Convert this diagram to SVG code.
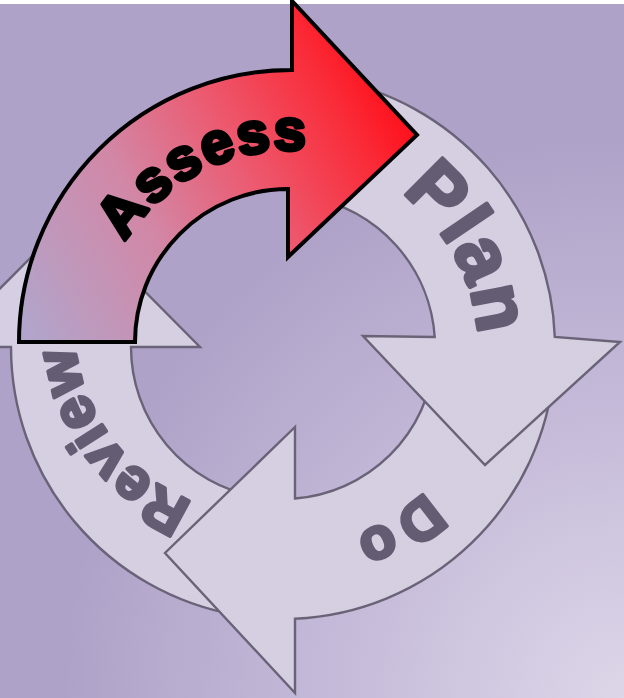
<svg xmlns="http://www.w3.org/2000/svg" width="624" height="698" viewBox="0 0 624 698">
  <defs>
    <radialGradient id="bg" gradientUnits="userSpaceOnUse" cx="624" cy="698" r="560">
      <stop offset="0" stop-color="#ddd6e8"/>
      <stop offset="0.45" stop-color="#c8bedb"/>
      <stop offset="1" stop-color="#afa2c8"/>
    </radialGradient>
    <linearGradient id="red" gradientUnits="userSpaceOnUse" x1="30" y1="330" x2="417" y2="110">
      <stop offset="0" stop-color="#b2a4ca"/>
      <stop offset="0.35" stop-color="#d287a6"/>
      <stop offset="0.6" stop-color="#ec5a70"/>
      <stop offset="0.85" stop-color="#fa2b38"/>
      <stop offset="1" stop-color="#ff0a14"/>
    </linearGradient>
    <linearGradient id="grey" gradientUnits="userSpaceOnUse" x1="0" y1="300" x2="624" y2="600">
      <stop offset="0" stop-color="#d6cfe3"/>
      <stop offset="1" stop-color="#d4cfdf"/>
    </linearGradient>
    <path id="tpPlan" d="M 346.8 164.0 A 196 196 0 0 1 472.3 397.7"/>
    <path id="tpDo" d="M 475.1 410.3 A 202 202 0 0 1 254.9 547.0"/>
    <path id="tpReview" d="M 231.8 513.1 A 191 191 0 0 1 75 305"/>
    <path id="tpAssess" d="M 108.6 276.3 A 192 192 0 0 1 345.1 158.4"/>
  </defs>
  <style>
    .cyc { fill: url(#grey); stroke: #6a6378; stroke-width: 2.4; stroke-linejoin: miter; }
    .glbl { font-family: "Liberation Sans", Arial, sans-serif; font-weight: bold; fill: #645c72; stroke: #645c72; stroke-width: 3.6; stroke-linejoin: round; }
    .albl { font-family: "Liberation Sans", Arial, sans-serif; font-weight: bold; fill: #000000; stroke: #000000; stroke-width: 4; stroke-linejoin: round; }
  </style>

  <rect x="0" y="0" width="624" height="698" fill="url(#bg)"/>
  <rect x="0" y="0" width="624" height="4" fill="#ffffff"/>

  <g id="connectors"/>

  <g id="review">
    <path class="cyc" d="M 235.8 614.9 A 272 272 0 0 1 11 347 L -58 347 L 71 217 L 200 347 L 131 347 A 152 152 0 0 0 256.6 496.7 Z"/>
    <text class="glbl" font-size="58" letter-spacing="1"><textPath href="#tpReview" startOffset="50%" text-anchor="middle">Review</textPath></text>
  </g>

  <g id="do">
    <path class="cyc" d="M 554 370.7 A 272 272 0 0 1 295 618.7 L 295 693 L 165 553 L 295 427 L 295 498.5 A 152 152 0 0 0 434.4 360.2 Z"/>
    <text class="glbl" font-size="58" letter-spacing="6"><textPath href="#tpDo" startOffset="50%" text-anchor="middle">Do</textPath></text>
  </g>

  <g id="plan">
    <path class="cyc" d="M 330.2 79.1 A 272 272 0 0 1 554.8 337 L 620 342 L 485 465 L 363 336 L 434.7 337 A 152 152 0 0 0 309.4 197.3 Z"/>
    <text class="glbl" font-size="76" letter-spacing="2"><textPath href="#tpPlan" startOffset="50%" text-anchor="middle">Plan</textPath></text>
  </g>

  <g id="assess">
    <path d="M 19 342 A 272 272 0 0 1 292 70 L 292 1 L 417 135 L 288 257 L 288 189 A 153 153 0 0 0 135 342 Z" fill="url(#red)" stroke="#000000" stroke-width="4" stroke-linejoin="miter"/>
    <text class="albl" font-size="58" letter-spacing="2"><textPath href="#tpAssess" startOffset="50%" text-anchor="middle">Assess</textPath></text>
  </g>
</svg>
